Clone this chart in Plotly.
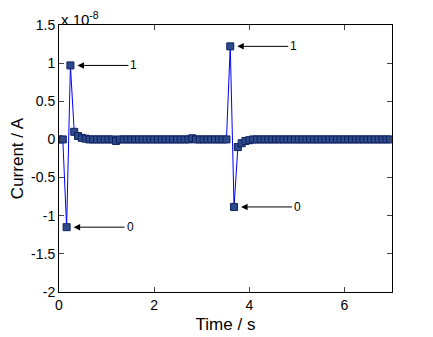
import numpy as np
import plotly.graph_objects as go

# sample times (s), 0.08 s step
time_s = np.round(np.arange(0, 7.0, 0.08), 2)

# current in units of 1e-8 A
current_e8 = np.zeros(len(time_s))
pulse_values = {
    0.16: -1.15, 0.24: 0.97, 0.32: 0.10, 0.40: 0.045, 0.48: 0.02, 0.56: 0.01,
    1.20: -0.02, 2.80: 0.015,
    3.60: 1.22, 3.68: -0.885, 3.76: -0.10, 3.84: -0.05, 3.92: -0.02, 4.00: -0.01,
}
for t, v in pulse_values.items():
    current_e8[np.argmin(np.abs(time_s - t))] = v
current = current_e8 * 1e-8

# labelled points: (time, current, label)
labels = [(0.24, 0.97e-8, "1"), (0.16, -1.15e-8, "0"),
          (3.60, 1.22e-8, "1"), (3.68, -0.885e-8, "0")]

y_ticks = [-2, -1.5, -1, -0.5, 0, 0.5, 1, 1.5]
x_ticks = [0, 2, 4, 6]

font = dict(family="Liberation Sans, Arial, sans-serif", size=14, color="black")

fig = go.Figure()
fig.add_trace(go.Scatter(
    x=time_s, y=current, mode="lines+markers",
    line=dict(color="#0000ff", width=1),
    marker=dict(symbol="square", size=7, color="#2f4a8a",
                line=dict(color="#0c1f5e", width=1)),
    showlegend=False,
))

for t, v, txt in labels:
    fig.add_annotation(
        x=t, y=v, text=txt, showarrow=True, arrowhead=2, arrowsize=1.3,
        arrowwidth=1, arrowcolor="black", ax=58, ay=0, standoff=7,
        xanchor="left", font=dict(family=font["family"], size=12, color="black"),
    )

# exponent label above the y axis
fig.add_annotation(
    x=0, y=1, xref="paper", yref="paper", xanchor="left", yanchor="bottom",
    text="x 10<sup>-8</sup>", showarrow=False,
    font=dict(family=font["family"], size=15, color="black"), yshift=-5,
)

# page body has an 8px margin, so the figure is a bit smaller than the window
fig.update_layout(
    width=425, height=329,
    margin=dict(l=51, r=41, t=17, b=45),
    paper_bgcolor="white", plot_bgcolor="white",
    font=font,
)
fig.update_xaxes(
    range=[0, 7], tickvals=x_ticks, ticks="inside", ticklen=5,
    showline=True, linecolor="black", linewidth=1, mirror="ticks",
    showgrid=False, zeroline=False, automargin=False,
    title=dict(text="Time / s", standoff=6),
)
fig.update_yaxes(
    range=[-2e-8, 1.5e-8], tickvals=[v * 1e-8 for v in y_ticks],
    ticktext=[f"{v:g}" for v in y_ticks], ticks="inside", ticklen=5,
    showline=True, linecolor="black", linewidth=1, mirror="ticks",
    showgrid=False, zeroline=False, automargin=False,
    title=dict(text="Current / A", standoff=6),
)

fig.write_html("out.html")
